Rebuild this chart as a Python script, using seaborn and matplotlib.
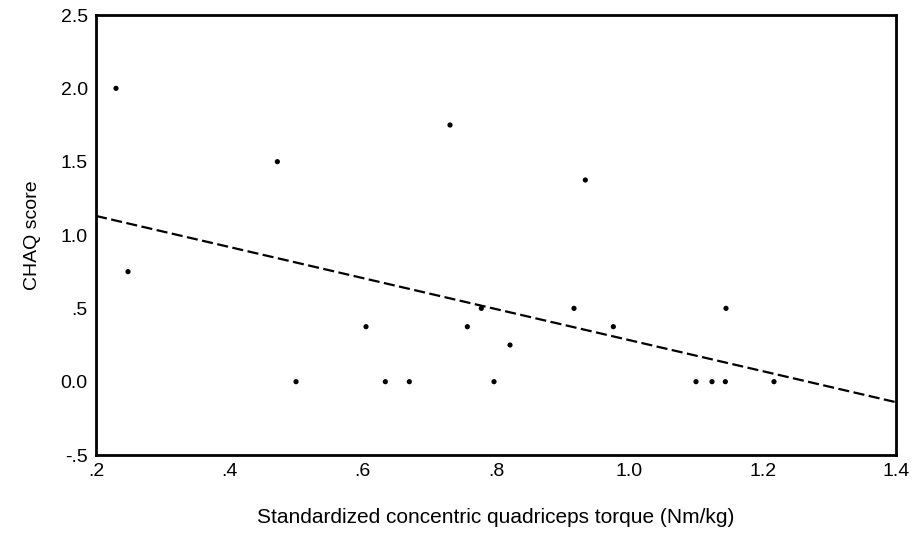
import matplotlib
matplotlib.use("Agg")
import matplotlib.pyplot as plt
import seaborn as sns
import pandas as pd

# Data
torque = [0.23, 0.248, 0.472, 0.50, 0.605, 0.634, 0.67, 0.731, 0.757, 0.778,
          0.797, 0.821, 0.917, 0.934, 0.976, 1.10, 1.124, 1.144, 1.145, 1.217]
chaq = [2.0, 0.75, 1.5, 0.0, 0.375, 0.0, 0.0, 1.75, 0.375, 0.5,
        0.0, 0.25, 0.5, 1.375, 0.375, 0.0, 0.0, 0.0, 0.5, 0.0]

# regression line endpoints
fit_x = [0.2, 1.4]
fit_y = [1.13, -0.14]

x_ticks = [0.2, 0.4, 0.6, 0.8, 1.0, 1.2, 1.4]
x_labels = ['.2', '.4', '.6', '.8', '1.0', '1.2', '1.4']
y_ticks = [-0.5, 0.0, 0.5, 1.0, 1.5, 2.0, 2.5]
y_labels = ['-.5', '0.0', '.5', '1.0', '1.5', '2.0', '2.5']

df = pd.DataFrame({'torque': torque, 'chaq': chaq})
fit = pd.DataFrame({'x': fit_x, 'y': fit_y})

sns.set_style('white')
plt.rcParams['font.family'] = ['Liberation Sans', 'DejaVu Sans']

fig = plt.figure(figsize=(9.17, 5.5), dpi=100)
ax = fig.add_axes([0.1047, 0.1727, 0.8724, 0.8])

sns.lineplot(data=fit, x='x', y='y', ax=ax, color='black', linewidth=1.6,
             dashes=False, linestyle=(0, (5, 2)))
sns.scatterplot(data=df, x='torque', y='chaq', ax=ax, color='black', s=14,
                edgecolor='none')

ax.set_xlim(0.2, 1.4)
ax.set_ylim(-0.5, 2.5)
ax.set_xticks(x_ticks)
ax.set_xticklabels(x_labels)
ax.set_yticks(y_ticks)
ax.set_yticklabels(y_labels)
ax.tick_params(direction='inout', length=6, width=2.5, labelsize=14,
               colors='black', pad=3)

for s in ax.spines.values():
    s.set_color('black')
    s.set_linewidth(2)

ax.set_xlabel('Standardized concentric quadriceps torque (Nm/kg)', fontsize=15,
              labelpad=20, color='black')
ax.set_ylabel('CHAQ score', fontsize=14, labelpad=14, color='black')

fig.savefig('out.png', dpi=100)
